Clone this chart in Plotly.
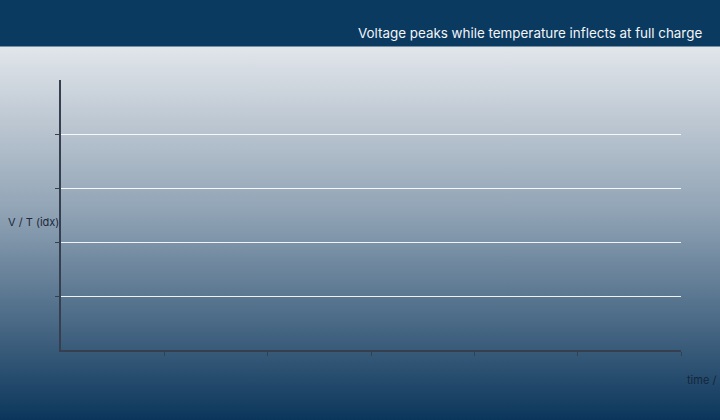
import base64
import plotly.graph_objects as go

# Data (no series marks are visible in the reference chart)
time_s = []
voltage_idx = []
temperature_idx = []
x_tick_vals = [1, 2, 3, 4, 5, 6]
y_tick_vals = [1, 2, 3, 4]

title_text = "Voltage peaks while temperature inflects at full charge"
y_title = "V / T (idx)"
x_title = "time /"

W, H = 720, 420
L, R, T, B = 61, 39, 80, 70
pw, ph = W - L - R, H - T - B

def px_x(p):
    return (p - L) / pw

def px_y(p):
    return (H - B - p) / ph

svg = (
    '<svg xmlns="http://www.w3.org/2000/svg" width="100" height="100" preserveAspectRatio="none">'
    '<defs><linearGradient id="g" x1="0" y1="0" x2="0" y2="1">'
    '<stop offset="0" stop-color="#e2e6eb"/>'
    '<stop offset="0.45" stop-color="#8fa2b4"/>'
    '<stop offset="1" stop-color="#0b365b"/>'
    '</linearGradient></defs>'
    '<rect width="100" height="100" fill="url(#g)"/></svg>'
)
src = "data:image/svg+xml;base64," + base64.b64encode(svg.encode()).decode()

fig = go.Figure()
fig.add_trace(go.Scatter(x=time_s, y=voltage_idx, mode="lines", name="V",
                         line=dict(color="#f2a900")))
fig.add_trace(go.Scatter(x=time_s, y=temperature_idx, mode="lines", name="T",
                         line=dict(color="#e4572e")))

fig.add_layout_image(dict(
    source=src, xref="paper", yref="paper",
    x=px_x(0), y=px_y(46), sizex=px_x(W) - px_x(0), sizey=px_y(46) - px_y(H),
    xanchor="left", yanchor="top", sizing="stretch", layer="below",
))

fig.add_shape(type="rect", xref="paper", yref="paper",
              x0=px_x(0), x1=px_x(W), y0=px_y(46.5), y1=px_y(0),
              fillcolor="#0b3a60", line=dict(width=0), layer="below")

fig.add_annotation(text=title_text, xref="paper", yref="paper",
                   x=px_x(704), y=px_y(33), xanchor="right", yanchor="middle",
                   showarrow=False, font=dict(family="Inter", size=13.4, color="#f2f5f8"))
fig.add_annotation(text=y_title, xref="paper", yref="paper",
                   x=px_x(61), y=px_y(222), xanchor="right", yanchor="middle",
                   showarrow=False, font=dict(family="Inter", size=11, color="#1c2a3c"))
fig.add_annotation(text=x_title, xref="paper", yref="paper",
                   x=px_x(685), y=px_y(380), xanchor="left", yanchor="middle",
                   showarrow=False, font=dict(family="Inter", size=11, color="#13263d"))

axis_color = "#363f50"
fig.update_xaxes(range=[0, 6], tickvals=x_tick_vals, showticklabels=False,
                 ticks="outside", ticklen=4, tickcolor=axis_color, tickwidth=1,
                 showline=True, linecolor=axis_color, linewidth=2,
                 showgrid=False, zeroline=False, fixedrange=True)
fig.update_yaxes(range=[0, 5], tickvals=y_tick_vals, showticklabels=False,
                 ticks="outside", ticklen=4, tickcolor=axis_color, tickwidth=1,
                 showline=True, linecolor=axis_color, linewidth=2,
                 showgrid=True, gridcolor="rgba(255,255,255,0.9)", gridwidth=1,
                 zeroline=False, fixedrange=True)

fig.update_layout(
    width=W, height=H,
    margin=dict(l=L, r=R, t=T, b=B, pad=0),
    paper_bgcolor="#7f95a9", plot_bgcolor="rgba(0,0,0,0)",
    showlegend=False,
    font=dict(family="Inter"),
)

fig.write_html("out.html", config={"displayModeBar": False},
               post_script="document.body.style.margin='0';document.body.style.overflow='hidden';")
